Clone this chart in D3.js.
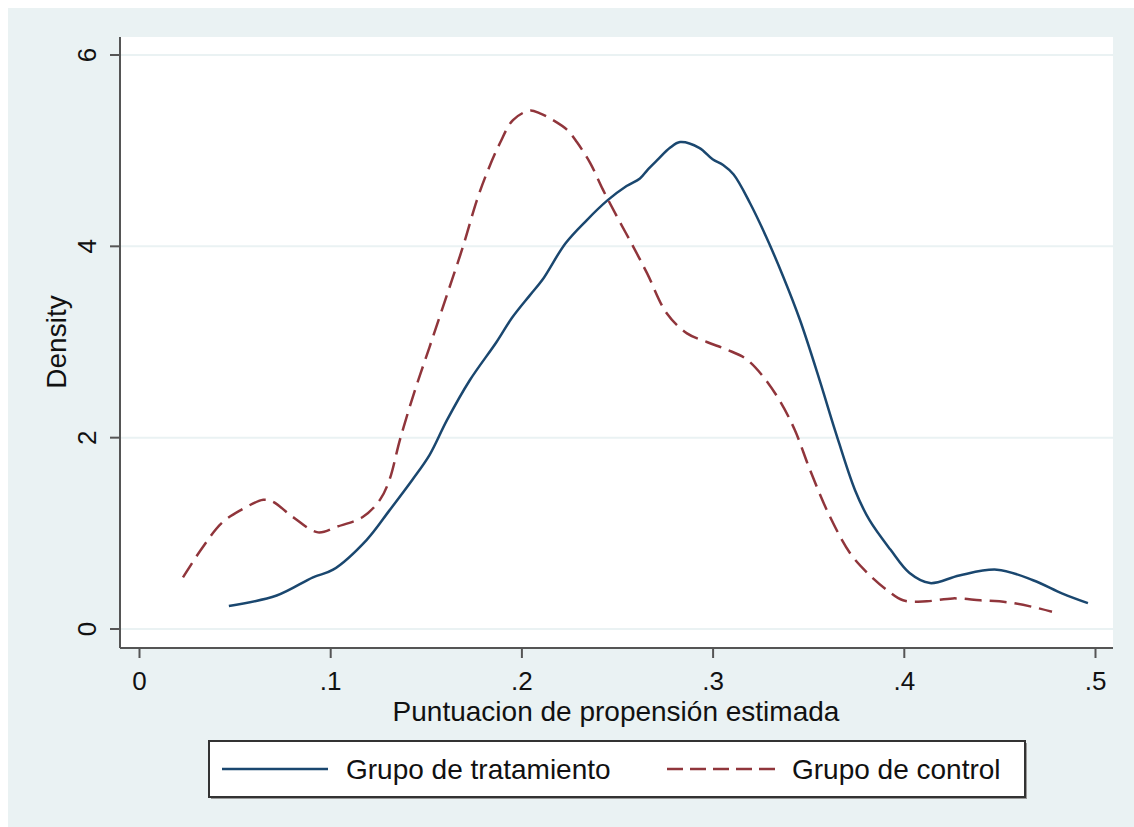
<!DOCTYPE html>
<html>
<head>
<meta charset="utf-8">
<script src="https://cdn.jsdelivr.net/npm/d3@7"></script>
<style>
  body { margin: 0; background: #fff; }
  text { font-family: "Liberation Sans", Arial, sans-serif; fill: #111; }
</style>
</head>
<body>
<script>
// kdensity estimates
var treatX = [0.047, 0.072, 0.091, 0.1015, 0.119, 0.131, 0.143, 0.152, 0.161, 0.173, 0.187, 0.195, 0.2045, 0.211, 0.223, 0.234, 0.245, 0.255, 0.262, 0.266, 0.271, 0.2777, 0.283, 0.293, 0.300, 0.3055, 0.311, 0.3196, 0.328, 0.337, 0.3457, 0.356, 0.364, 0.3745, 0.382, 0.393, 0.403, 0.4137, 0.429, 0.4487, 0.4676, 0.483, 0.4963];
var treatY = [0.24, 0.35, 0.54, 0.62, 0.93, 1.24, 1.56, 1.82, 2.18, 2.6, 3.0, 3.25, 3.49, 3.65, 4.03, 4.27, 4.48, 4.63, 4.71, 4.80, 4.9, 5.03, 5.09, 5.03, 4.91, 4.85, 4.75, 4.45, 4.1, 3.68, 3.23, 2.6, 2.08, 1.45, 1.14, 0.83, 0.585, 0.48, 0.56, 0.62, 0.51, 0.37, 0.27];

var ctrlX = [0.023, 0.0335, 0.0434, 0.053, 0.065, 0.070, 0.0805, 0.0936, 0.1036, 0.117, 0.126, 0.131, 0.1365, 0.1444, 0.152, 0.1637, 0.1695, 0.1767, 0.182, 0.1888, 0.1956, 0.2045, 0.2097, 0.2165, 0.2238, 0.229, 0.236, 0.2427, 0.25, 0.2584, 0.2657, 0.276, 0.2866, 0.297, 0.3075, 0.317, 0.326, 0.335, 0.343, 0.351, 0.361, 0.372, 0.381, 0.391, 0.3996, 0.412, 0.4257, 0.44, 0.454, 0.4676, 0.4775];
var ctrlY = [0.54, 0.86, 1.11, 1.24, 1.35, 1.33, 1.17, 1.01, 1.07, 1.17, 1.35, 1.56, 1.98, 2.5, 2.95, 3.65, 4.0, 4.48, 4.77, 5.08, 5.32, 5.42, 5.39, 5.32, 5.22, 5.09, 4.87, 4.59, 4.31, 4.0, 3.72, 3.3, 3.09, 3.0, 2.92, 2.83, 2.65, 2.39, 2.08, 1.66, 1.19, 0.79, 0.585, 0.41, 0.30, 0.29, 0.32, 0.30, 0.28, 0.23, 0.18];

var xTicks = [0, 0.1, 0.2, 0.3, 0.4, 0.5];
var xTickLabels = ["0", ".1", ".2", ".3", ".4", ".5"];
var yTicks = [0, 2, 4, 6];
var seriesNames = ["Grupo de tratamiento", "Grupo de control"];

var width = 1134, height = 827;
var plot = {left: 120, right: 1113, top: 37, bottom: 648};

var blue = "#1a476f", red = "#90353b", axisCol = "#555", bg = "#eaf2f3";

var svg = d3.select("body").append("svg")
  .attr("width", width)
  .attr("height", height);

// outer graph region
svg.append("rect")
  .attr("x", 8).attr("y", 8)
  .attr("width", width - 8).attr("height", height - 8)
  .style("fill", bg);

// plot region
svg.append("rect")
  .attr("x", plot.left).attr("y", plot.top)
  .attr("width", plot.right - plot.left).attr("height", plot.bottom - plot.top)
  .style("fill", "#fff");

var xScale = d3.scaleLinear().domain([0, 0.5]).range([139, 1095]);
var yScale = d3.scaleLinear().domain([0, 6]).range([629, 55]);

// gridlines
svg.append("g")
  .selectAll("line")
  .data(yTicks)
  .enter().append("line")
  .attr("x1", plot.left).attr("x2", plot.right)
  .attr("y1", d => yScale(d)).attr("y2", d => yScale(d))
  .style("stroke", bg)
  .style("stroke-width", 2);

// y axis
var yAxis = d3.axisLeft(yScale)
  .tickValues(yTicks)
  .tickSize(10)
  .tickPadding(0)
  .tickFormat(d3.format("d"));

var yg = svg.append("g")
  .attr("transform", "translate(" + plot.left + ",0)")
  .call(yAxis);
yg.select(".domain").attr("d", "M0," + plot.top + "V" + plot.bottom);
yg.selectAll("line, path").style("stroke", axisCol).style("stroke-width", 2);
yg.selectAll("text")
  .attr("x", null).attr("dy", null)
  .attr("transform", d => "translate(-24," + yScale(d) + ") rotate(-90)")
  .attr("y", 0)
  .attr("text-anchor", "middle")
  .style("font-size", "26px")
  .style("font-family", "Liberation Sans, Arial, sans-serif")
  .style("fill", "#111");
yg.selectAll(".tick").attr("transform", null);
yg.selectAll(".tick line").attr("y1", d => yScale(d)).attr("y2", d => yScale(d));

// x axis
var xAxis = d3.axisBottom(xScale)
  .tickValues(xTicks)
  .tickSize(10)
  .tickPadding(14)
  .tickFormat((d, i) => xTickLabels[i]);

var xg = svg.append("g")
  .attr("transform", "translate(0," + plot.bottom + ")")
  .call(xAxis);
xg.select(".domain").attr("d", "M" + plot.left + ",0H" + plot.right);
xg.selectAll("line, path").style("stroke", axisCol).style("stroke-width", 2);
xg.selectAll("text")
  .style("font-size", "26px")
  .style("font-family", "Liberation Sans, Arial, sans-serif")
  .style("fill", "#111");

// axis titles
svg.append("text")
  .attr("x", 616).attr("y", 721)
  .attr("text-anchor", "middle")
  .style("font-size", "28px")
  .text("Puntuacion de propensión estimada");

svg.append("text")
  .attr("transform", "translate(66,342) rotate(-90)")
  .attr("text-anchor", "middle")
  .style("font-size", "28px")
  .text("Density");

// density curves
var line = d3.line()
  .x(d => xScale(d[0]))
  .y(d => yScale(d[1]))
  .curve(d3.curveCatmullRom);

svg.append("path")
  .datum(treatX.map((x, i) => [x, treatY[i]]))
  .attr("d", line)
  .style("fill", "none")
  .style("stroke", blue)
  .style("stroke-width", 2.5);

svg.append("path")
  .datum(ctrlX.map((x, i) => [x, ctrlY[i]]))
  .attr("d", line)
  .style("fill", "none")
  .style("stroke", red)
  .style("stroke-width", 2.5)
  .style("stroke-dasharray", "17,8");

// legend
var legend = svg.append("g");
legend.append("rect")
  .attr("x", 211).attr("y", 743)
  .attr("width", 816).attr("height", 56)
  .style("fill", "#999");
legend.append("rect")
  .attr("x", 209).attr("y", 741)
  .attr("width", 816).attr("height", 56)
  .style("fill", "#fff")
  .style("stroke", "#333")
  .style("stroke-width", 2);

var legendItems = [
  {name: seriesNames[0], color: blue, dash: null, x1: 222, x2: 328, tx: 346},
  {name: seriesNames[1], color: red, dash: "16,7", x1: 667, x2: 775, tx: 792}
];
legendItems.forEach(function(item) {
  legend.append("line")
    .attr("x1", item.x1).attr("x2", item.x2)
    .attr("y1", 769).attr("y2", 769)
    .style("stroke", item.color)
    .style("stroke-width", 2.5)
    .style("stroke-dasharray", item.dash);
  legend.append("text")
    .attr("x", item.tx).attr("y", 779)
    .style("font-size", "28px")
    .text(item.name);
});
</script>
</body>
</html>
